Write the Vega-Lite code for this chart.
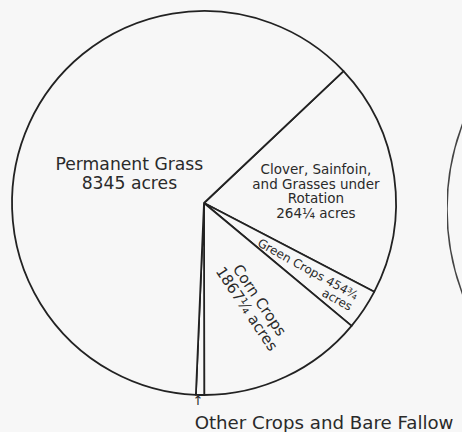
{
  "$schema": "https://vega.github.io/schema/vega-lite/v6.json",
  "background": "#f7f7f7",
  "padding": {"left": 6, "top": 10, "right": 0, "bottom": 0},
  "bounds": "flush",
  "spacing": 51,
  "config": {"view": {"stroke": null}, "text": {"font": "DejaVu Sans", "color": "#2a2a2a"}},
  "hconcat": [
    {
      "width": 384,
      "height": 384,
      "data": {"values": [
        {"seq": 1, "crop": "Clover, Sainfoin, and Grasses under Rotation", "acres": 2641.25, "label": "Clover, Sainfoin,\nand Grasses under\nRotation\n264¼ acres"},
        {"seq": 2, "crop": "Green Crops", "acres": 454.75, "label": "Green Crops 454¾\nacres"},
        {"seq": 3, "crop": "Corn Crops", "acres": 1867.25, "label": "Corn Crops\n1867¼ acres"},
        {"seq": 4, "crop": "Other Crops and Bare Fallow", "acres": 93, "label": "Other Crops and Bare Fallow"},
        {"seq": 5, "crop": "Permanent Grass", "acres": 8345, "label": "Permanent Grass\n8345 acres"}
      ]},
      "encoding": {
        "theta": {"field": "acres", "type": "quantitative", "stack": true, "scale": {"range": [0.8133, 7.0965]}},
        "order": {"field": "seq", "type": "ordinal"}
      },
      "layer": [
        {"mark": {"type": "arc", "fill": "#f7f7f7", "stroke": "#222222", "strokeWidth": 1.8, "strokeJoin": "round"}},
        {"mark": {"type": "text", "fontSize": 17.2, "lineHeight": 19, "lineBreak": "\n", "align": "center", "baseline": "middle", "radius": 82, "dy": -4},
         "encoding": {"text": {"condition": {"test": "datum.crop === 'Permanent Grass'", "field": "label"}, "value": ""}}},
        {"mark": {"type": "text", "fontSize": 13.5, "lineHeight": 14.5, "lineBreak": "\n", "align": "center", "baseline": "middle", "radius": 113, "dy": -17},
         "encoding": {"text": {"condition": {"test": "datum.crop === 'Clover, Sainfoin, and Grasses under Rotation'", "field": "label"}, "value": ""}}},
        {"mark": {"type": "text", "fontSize": 12, "lineHeight": 12.5, "lineBreak": "\n", "align": "right", "baseline": "middle", "angle": 29, "radius": 180, "dy": -7},
         "encoding": {"text": {"condition": {"test": "datum.crop === 'Green Crops'", "field": "label"}, "value": ""}}},
        {"mark": {"type": "text", "fontSize": 15, "lineHeight": 15.5, "lineBreak": "\n", "align": "center", "baseline": "middle", "angle": 56, "radius": 113, "dy": -9},
         "encoding": {"text": {"condition": {"test": "datum.crop === 'Corn Crops'", "field": "label"}, "value": ""}}},
        {"mark": {"type": "text", "fontSize": 13, "align": "center", "baseline": "middle", "radius": 198, "dx": -2},
         "encoding": {"text": {"condition": {"test": "datum.crop === 'Other Crops and Bare Fallow'", "value": "↑"}, "value": ""}}},
        {"mark": {"type": "text", "fontSize": 18.2, "align": "left", "baseline": "top", "radius": 212, "dx": -5},
         "encoding": {"text": {"condition": {"test": "datum.crop === 'Other Crops and Bare Fallow'", "field": "label"}, "value": ""}}}
      ]
    },
    {
      "width": 480,
      "height": 396,
      "data": {"values": [{"part": "adjacent chart (cut off)", "share": 1}]},
      "mark": {"type": "arc", "fill": "#f7f7f7", "stroke": "#444444", "strokeWidth": 1.5, "radius": 240, "clip": true},
      "encoding": {
        "theta": {"field": "share", "type": "quantitative", "stack": true}
      }
    }
  ]
}
